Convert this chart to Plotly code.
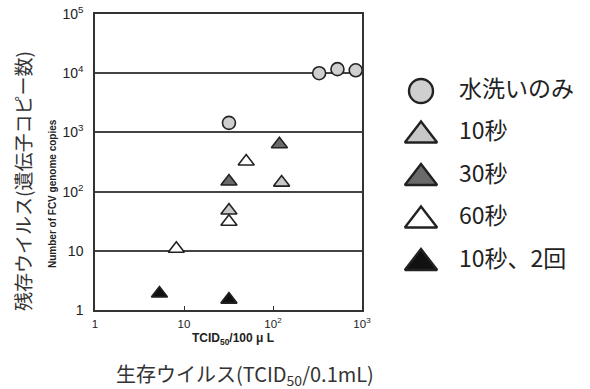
import plotly.graph_objects as go

# ---- data (x: TCID50/100uL, y: FCV genome copies) ----
wash_x = [32, 330, 530, 850]
wash_y = [1450, 10000, 11700, 11200]

s10_x = [32, 125]
s10_y = [48, 142]

s30_x = [32, 118]
s30_y = [148, 630]

s60_x = [8.2, 32, 50]
s60_y = [10.8, 31, 322]

s10x2_x = [5.3, 32]
s10x2_y = [1.9, 1.5]

legend_labels = ["水洗いのみ", "10秒", "30秒", "60秒", "10秒、2回"]

x_tickvals = [1, 10, 100, 1000]
x_ticktext = ["1", "10", "10<sup>2</sup>", "10<sup>3</sup>"]
y_tickvals = [1, 10, 100, 1000, 10000, 100000]
y_ticktext = ["1", "10", "10<sup>2</sup>", "10<sup>3</sup>", "10<sup>4</sup>", "10<sup>5</sup>"]

# styles
series = [
    dict(x=wash_x, y=wash_y, symbol="circle", fill="#cfcfcf", size=13),
    dict(x=s10_x, y=s10_y, symbol="triangle-up", fill="#c8c8c8", size=14),
    dict(x=s30_x, y=s30_y, symbol="triangle-up", fill="#6a6a6a", size=14),
    dict(x=s60_x, y=s60_y, symbol="triangle-up", fill="#ffffff", size=14),
    dict(x=s10x2_x, y=s10x2_y, symbol="triangle-up", fill="#111111", size=14),
]

W, H = 590, 389
# pixel geometry of the plot frame
S_LEFT, S_RIGHT, S_TOP, S_BOTTOM = 95, 362, 14, 310
ml = S_LEFT
mt = S_TOP
mb = H - S_BOTTOM
mr = 10
pw = W - ml - mr
ph = H - mt - mb


def px(sx):
    return (sx - ml) / pw


def py(sy):
    return (H - sy - mb) / ph


fig = go.Figure()
for s, lab in zip(series, legend_labels):
    fig.add_trace(go.Scatter(
        x=s["x"], y=s["y"], mode="markers", name=lab,
        marker=dict(symbol=s["symbol"], size=s["size"], color=s["fill"],
                    line=dict(color="#222222", width=1.6)),
        showlegend=False, xaxis="x", yaxis="y"))

# manual legend on a second axis in pixel units
leg_x_marker = 421
leg_x_text = 459
leg_y0 = 91
leg_dy = 42.5
leg_sizes = [24, 28, 28, 28, 28]
for i, (s, lab) in enumerate(zip(series, legend_labels)):
    yy = leg_y0 + i * leg_dy
    fig.add_trace(go.Scatter(
        x=[leg_x_marker], y=[yy + (2 if s["symbol"] != "circle" else 0)], mode="markers",
        marker=dict(symbol=s["symbol"], size=leg_sizes[i], color=s["fill"],
                    line=dict(color="#222222", width=2.4)),
        showlegend=False, xaxis="x2", yaxis="y2", hoverinfo="skip"))
    fig.add_trace(go.Scatter(
        x=[leg_x_text], y=[yy], mode="text", text=[lab], textposition="middle right",
        textfont=dict(family="Noto Sans CJK JP", size=23, color="#222222"),
        showlegend=False, xaxis="x2", yaxis="y2", hoverinfo="skip"))

font_lat = "Liberation Sans, Arial, sans-serif"
font_narrow = "Liberation Sans Narrow, Arial Narrow, Liberation Sans, sans-serif"
fig.update_layout(
    width=W, height=H,
    margin=dict(l=ml, r=mr, t=mt, b=mb, autoexpand=False),
    paper_bgcolor="white", plot_bgcolor="white",
    showlegend=False,
    xaxis=dict(type="log", range=[0, 3], domain=[0, (S_RIGHT - S_LEFT) / pw],
               tickvals=x_tickvals, ticktext=x_ticktext,
               ticks="inside", ticklen=4, tickcolor="#333", tickwidth=1,
               showgrid=False, showline=True, linecolor="#333", linewidth=1.5,
               mirror=True, zeroline=False, ticklabelstandoff=2,
               ticklabeloverflow="allow", automargin=False,
               tickfont=dict(family=font_lat, size=11.5, color="#222")),
    yaxis=dict(type="log", range=[0, 5],
               tickvals=y_tickvals, ticktext=y_ticktext,
               ticks="", showgrid=True, gridcolor="#444", gridwidth=1.5,
               showline=True, linecolor="#333", linewidth=1.5, mirror=True,
               zeroline=False, ticklabelstandoff=7, ticklabeloverflow="allow",
               automargin=False,
               tickfont=dict(family=font_narrow, size=14, color="#222")),
    xaxis2=dict(domain=[px(367), 1], range=[367, W - mr],
                visible=False, anchor="y2", fixedrange=True, automargin=False),
    yaxis2=dict(domain=[0, 1], range=[S_BOTTOM, S_TOP], visible=False, anchor="x2",
                fixedrange=True, automargin=False),
    annotations=[
        dict(text="<b>TCID<sub>50</sub>/100 μ L</b>", x=px(233), y=py(339), xref="paper", yref="paper",
             showarrow=False, font=dict(family=font_lat, size=12, color="#222"),
             xanchor="center", yanchor="middle"),
        dict(text="<b>Number of FCV genome copies</b>", x=px(52), y=py(194), xref="paper", yref="paper",
             textangle=-90, showarrow=False, font=dict(family=font_lat, size=10, color="#222"),
             xanchor="center", yanchor="middle"),
        dict(text="残存ウイルス(遺伝子コピー数)", x=px(22), y=py(181), xref="paper", yref="paper",
             textangle=-90, showarrow=False,
             font=dict(family="Noto Sans CJK JP", size=19, color="#333"),
             xanchor="center", yanchor="middle"),
        dict(text="生存ウイルス(TCID<sub>50</sub>/0.1mL)", x=px(245), y=py(374), xref="paper", yref="paper",
             showarrow=False, font=dict(family="Noto Sans CJK JP", size=20, color="#333"),
             xanchor="center", yanchor="middle"),
    ],
)

fig.write_html("out.html", config={"displayModeBar": False},
               post_script="document.body.style.margin='0';document.body.style.overflow='hidden';")
